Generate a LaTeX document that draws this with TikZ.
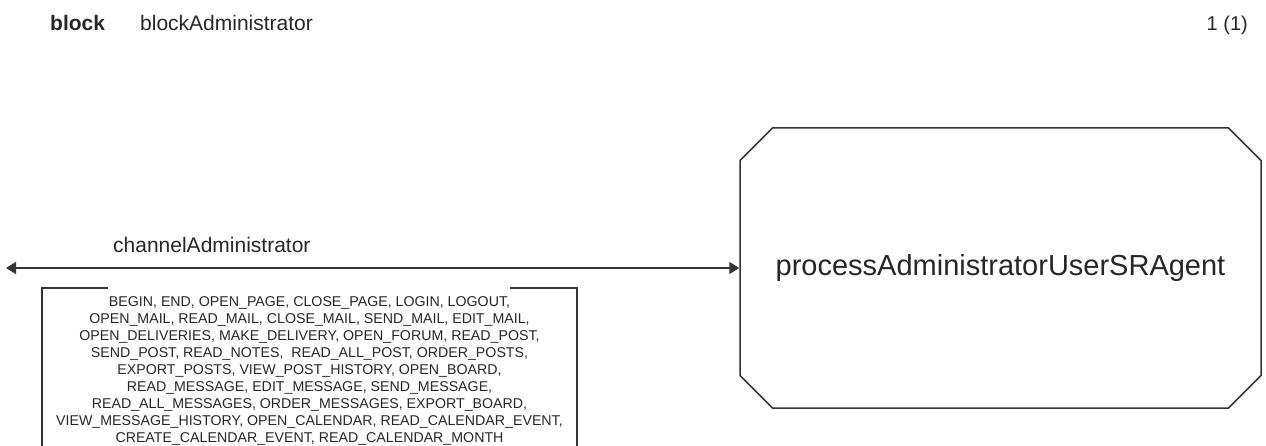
\documentclass[tikz,border=0pt]{standalone}
\usepackage{fontspec}
\setmainfont{Liberation Sans}
\usetikzlibrary{shapes.misc,arrows.meta}
\tikzset{
  txt/.style={inner sep=0pt,text=black!85,font=\fontsize{21}{25}\selectfont},
  sdlline/.style={line width=1.5pt,draw=black!80},
}
\begin{document}
\begin{tikzpicture}[x=1pt,y=-1pt]
    \useasboundingbox (0,0) rectangle (1266,446);
    % header
    \node[txt,anchor=base west,font=\fontsize{21}{25}\selectfont\bfseries] (0) at (50,31) {block};
    \node[txt,anchor=base west] (1) at (140,31) {blockAdministrator};
    \node[txt,anchor=base east,font=\fontsize{20}{24}\selectfont] (2) at (1248,31) {1 (1)};
    % process
    \node[sdlline,chamfered rectangle,chamfered rectangle xsep=14pt,chamfered rectangle ysep=19pt,
      minimum width=521pt,minimum height=280pt,inner sep=0pt,text=black!85,
      font=\fontsize{29}{34}\selectfont] (agent) at (1000.5,268) {processAdministratorUserSRAgent};
    % channel
    \coordinate (l) at (6,268);
    \draw[sdlline,{Triangle[length=10pt,width=12pt]}-{Triangle[length=10pt,width=12pt]}] (l) -- (agent.west);
    \node[txt,anchor=base west] (ch) at (113,253) {channelAdministrator};
    % signal list
    \node[txt,anchor=base,align=center,font=\fontsize{14.2}{17}\selectfont] (sig) at (309.5,442)
      {BEGIN, END, OPEN\_PAGE, CLOSE\_PAGE, LOGIN, LOGOUT,\\
       OPEN\_MAIL, READ\_MAIL, CLOSE\_MAIL, SEND\_MAIL, EDIT\_MAIL,\\
       OPEN\_DELIVERIES, MAKE\_DELIVERY, OPEN\_FORUM, READ\_POST,\\
       SEND\_POST, READ\_NOTES,~ READ\_ALL\_POST, ORDER\_POSTS,\\
       EXPORT\_POSTS, VIEW\_POST\_HISTORY, OPEN\_BOARD,\\
       READ\_MESSAGE, EDIT\_MESSAGE, SEND\_MESSAGE,\\
       READ\_ALL\_MESSAGES, ORDER\_MESSAGES, EXPORT\_BOARD,\\
       VIEW\_MESSAGE\_HISTORY, OPEN\_CALENDAR, READ\_CALENDAR\_EVENT,\\
       CREATE\_CALENDAR\_EVENT, READ\_CALENDAR\_MONTH};
    \draw[sdlline] (108,288) -- (42,288) -- (42,448);
    \draw[sdlline] (510,288) -- (577,288) -- (577,448);
\end{tikzpicture}
\end{document}
